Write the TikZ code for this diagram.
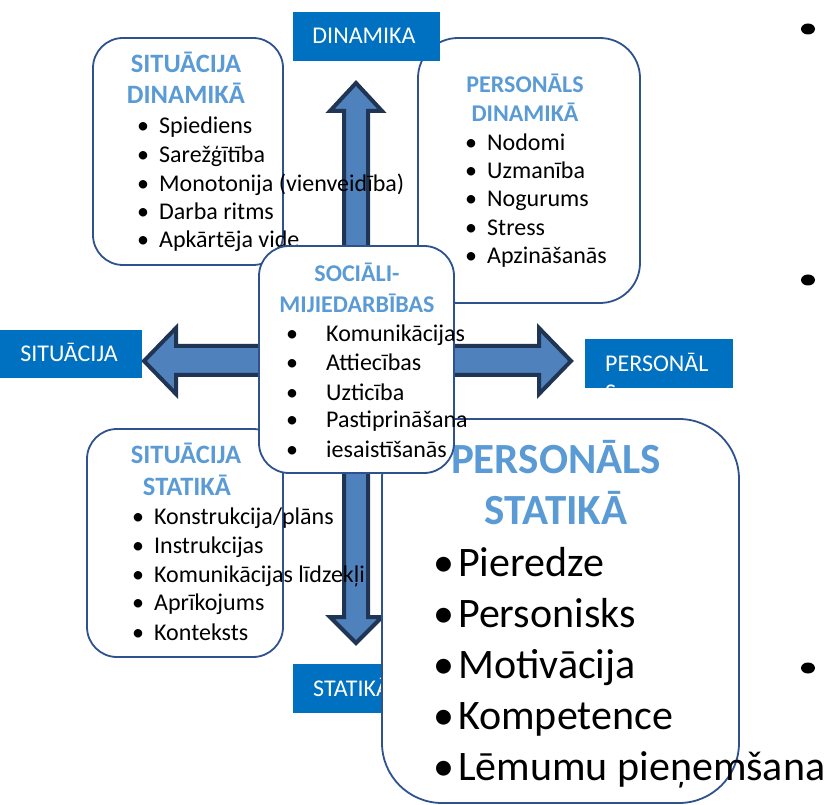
\documentclass[tikz,border=0pt]{standalone}
\usepackage{fontspec}
\setmainfont{Carlito}
\definecolor{tagblue}{HTML}{0070C0}
\definecolor{ttlblue}{HTML}{5B9BD5}
\definecolor{frameblue}{HTML}{2F528F}
\definecolor{arrfill}{HTML}{4F81BD}
\definecolor{arrline}{HTML}{1F3553}
\tikzset{
  card/.style={draw=frameblue, line width=1.8pt, fill=white, rectangle, inner sep=0pt},
  tagbox/.style={fill=tagblue, rectangle, inner sep=0pt},
  tagtext/.style={text=white, font=\fontsize{24}{28}\selectfont, inner sep=0pt, anchor=base west},
  ttl/.style={text=ttlblue, font=\bfseries\fontsize{24}{28}\selectfont, inner sep=0pt, anchor=base},
  sitttl/.style={text=ttlblue, font=\bfseries\fontsize{26.5}{30}\selectfont, inner sep=0pt, anchor=base},
  bigttl/.style={text=ttlblue, font=\bfseries\fontsize{43}{50}\selectfont, inner sep=0pt, anchor=base},
  itm/.style={font=\fontsize{24}{28}\selectfont, inner sep=0pt, anchor=base west},
  bul/.style={font=\fontsize{24}{28}\selectfont, inner sep=0pt, anchor=base},
  bigitm/.style={font=\fontsize{42}{50}\selectfont, inner sep=0pt, anchor=base west},
  bigbul/.style={font=\fontsize{42}{50}\selectfont, inner sep=0pt, anchor=base},
  quadarrow/.style={fill=arrfill, draw=arrline, line width=4pt, line join=miter},
}
\begin{document}
\begin{tikzpicture}[x=1pt, y=-1pt]
\useasboundingbox (0,0) rectangle (831,805);

% four-way arrow behind everything
\draw[quadarrow]
  (356,83) -- (382,111) -- (368,111) -- (368,346) -- (539,346) -- (539,328)
  -- (571,361) -- (539,394) -- (539,375) -- (368,375) -- (368,617) -- (382,617)
  -- (356,643) -- (330,617) -- (344,617) -- (344,375) -- (176,375) -- (176,394)
  -- (144,361) -- (176,328) -- (176,346) -- (344,346) -- (344,111) -- (330,111)
  -- cycle;

% situation in dynamics
\node[card, rounded corners=30pt, minimum width=190pt, minimum height=227pt] (sitdin) at (188,151.5) {};
\node[sitttl] (sitdinA) at (186,73) {SITUĀCIJA};
\node[sitttl] (sitdinB) at (186,104) {DINAMIKĀ};
\foreach \yy/\tx [count=\i] in {134/Spiediens, 163/Sarežģītība, 192/Monotonija (vienveidība), 220/Darba ritms, 248/Apkārtēja vide} {
  \node[bul] (sdb\i) at (143,\yy) {•};
  \node[itm] (sdt\i) at (159,\yy) {\tx};
}

% personnel in dynamics
\node[card, rounded corners=40pt, minimum width=222pt, minimum height=265pt] (persdin) at (529,170.5) {};
\node[ttl] (persdinA) at (525,93) {PERSONĀLS};
\node[ttl] (persdinB) at (525,122) {DINAMIKĀ};
\foreach \yy/\tx [count=\i] in {151/Nodomi, 179/Uzmanība, 207/Nogurums, 236/Stress, 264/Apzināšanās} {
  \node[bul] (pdb\i) at (471,\yy) {•};
  \node[itm] (pdt\i) at (487,\yy) {\tx};
}

% axis label: dynamics
\node[tagbox, minimum width=147pt, minimum height=49pt] (dyn) at (366.5,36.5) {};
\node[tagtext, anchor=base] (dyntext) at (364,44) {DINAMIKA};

% situation in statics
\node[card, rounded corners=30pt, minimum width=196pt, minimum height=228pt] (sitstat) at (185,543) {};
\node[sitttl] (sitstatA) at (186,463) {SITUĀCIJA};
\node[sitttl] (sitstatB) at (187,495) {STATIKĀ};
\foreach \yy/\tx [count=\i] in {524/{Konstrukcija/plāns}, 553/Instrukcijas, 582/Komunikācijas līdzekļi, 610/Aprīkojums, 640/Konteksts} {
  \node[bul] (ssb\i) at (138,\yy) {•};
  \node[itm] (sst\i) at (154,\yy) {\tx};
}

% axis label: situation
\node[tagbox, minimum width=142pt, minimum height=48pt] (sit) at (71,354) {};
\node[tagtext, anchor=base] (sittext) at (69,362) {SITUĀCIJA};

% axis label: personnel (text runs past the box and is cut off)
\node[tagbox, minimum width=148pt, minimum height=49pt] (pers) at (659,363.5) {};
\begin{scope}
  \clip (pers.south west) rectangle (pers.north east);
  \node[tagtext] (perstextA) at (605,372) {PERSONĀL};
  \node[tagtext] (perstextB) at (605,400) {S};
\end{scope}

% axis label: statics
\node[tagbox, minimum width=147pt, minimum height=49pt] (stat) at (366.5,688.5) {};
\node[tagtext] (stattext) at (313,696) {STATIKĀ};

% personnel in statics
\node[card, rounded corners=60pt, minimum width=357pt, minimum height=384pt] (persstat) at (560.5,611) {};
\node[bigttl] (persstatA) at (556,473) {PERSONĀLS};
\node[bigttl] (persstatB) at (556,524) {STATIKĀ};
\foreach \yy/\tx [count=\i] in {576/Pieredze, 627/Personisks, 678/Motivācija, 729/Kompetence, 780/Lēmumu pieņemšana} {
  \node[bigbul] (psb\i) at (444,\yy) {•};
  \node[bigitm] (pst\i) at (458,\yy) {\tx};
}

% social interaction in the centre
\node[card, rounded corners=30pt, minimum width=195pt, minimum height=227pt] (soc) at (356.5,359.5) {};
\node[ttl] (socA) at (357,282) {SOCIĀLI-};
\node[ttl] (socB) at (357,313) {MIJIEDARBĪBAS};
\foreach \yy/\tx [count=\i] in {342/Komunikācijas, 371/Attiecības, 400/Uzticība, 428/Pastiprināšana, 457/iesaistīšanās} {
  \node[bul] (scb\i) at (292,\yy) {•};
  \node[itm] (sct\i) at (326,\yy) {\tx};
}

% bullets at the right margin
\fill (808,29) ellipse [x radius=7pt, y radius=5.5pt];
\fill (808,280) ellipse [x radius=7pt, y radius=5.5pt];
\fill (808,668) ellipse [x radius=7pt, y radius=5.5pt];
\end{tikzpicture}
\end{document}
